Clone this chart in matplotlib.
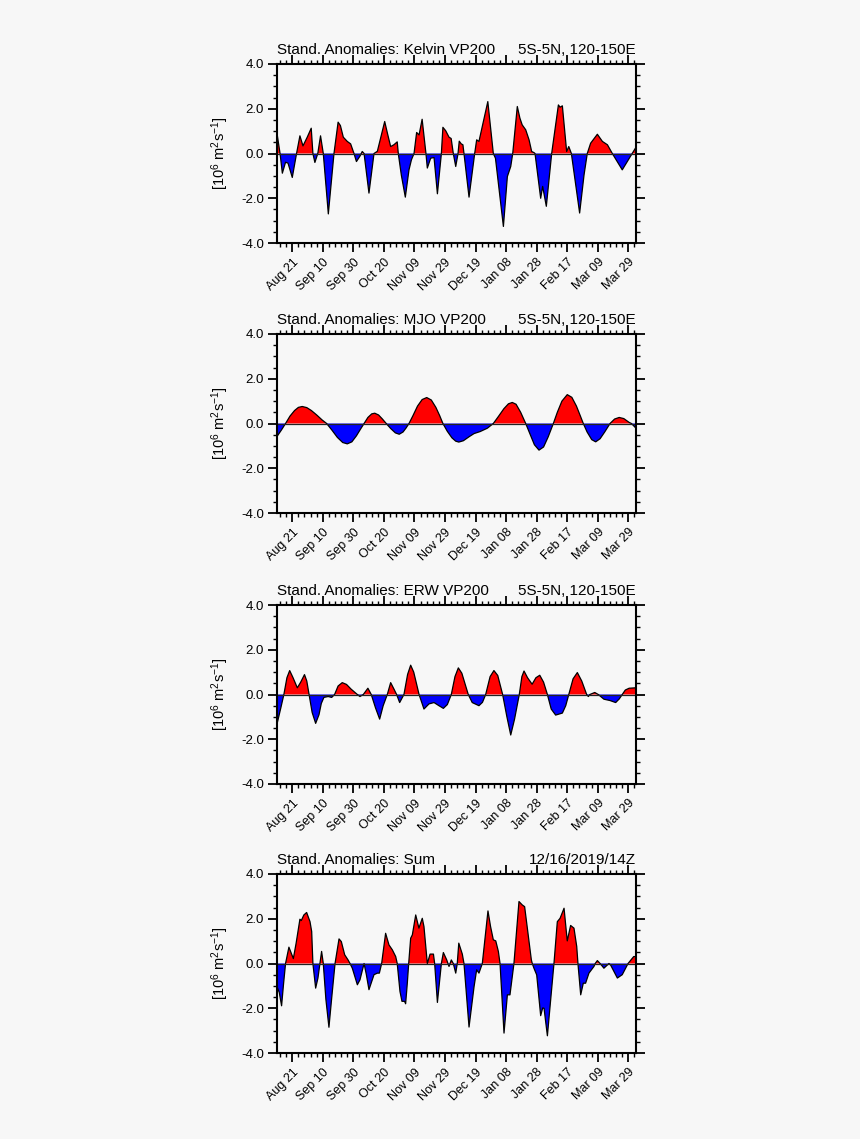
import numpy as np
import matplotlib
matplotlib.use("Agg")
import matplotlib.pyplot as plt
from matplotlib.ticker import MultipleLocator, FixedLocator

plt.rcParams["font.family"] = ["Liberation Sans", "DejaVu Sans"]
plt.rcParams["mathtext.default"] = "regular"

# x axis = days after Aug 21
tick_days = [0, 20, 40, 60, 80, 100, 120, 140, 160, 180, 200, 220]
tick_labels = ["Aug 21", "Sep 10", "Sep 30", "Oct 20", "Nov 09", "Nov 29",
               "Dec 19", "Jan 08", "Jan 28", "Feb 17", "Mar 09", "Mar 29"]
y_ticks = [-4, -2, 0, 2, 4]
y_tick_labels = ["-4.0", "-2.0", "0.0", "2.0", "4.0"]

# Kelvin VP200
kelvin_day = [-10, -8, -6.5, -4.4, -2.8, 0, 2.8, 5, 7, 9.8, 12.4, 13.5, 14.8, 16.7, 18.5,
              20.3, 23.6, 27.3, 30, 31.5, 33.4, 36, 38.2, 40.4, 42, 44.2, 45.8, 47, 50.2,
              53.5, 55.7, 60.5, 62.3, 64.4, 66.5, 68.7, 69.4, 71.4, 74, 76.4, 78, 79.7,
              81.4, 83, 85, 87.5, 88.4, 90.6, 92.8, 95, 97.6, 98.6, 100.4, 102.6, 104,
              105.4, 107, 108.5, 109.3, 110.6, 111.7, 112.4, 115.7, 119.4, 120.7, 122.2,
              128, 131.6, 133, 138.2, 140.8, 143, 144.3, 147.3, 149, 150.5, 152.8, 155,
              156.7, 158.2, 158.9, 162.6, 163.9, 166.3, 169.8, 174.2, 175.3, 176.8, 179.6,
              181, 182.7, 188.1, 191, 193.1, 195.3, 199.7, 203, 206.3, 209.5, 216, 222.5, 225]
kelvin_val = [0.90, 0.0, -0.88, -0.39, -0.43, -1.07, 0.0, 0.79, 0.34, 0.73, 1.13, 0.0, -0.40, 0.0, 0.79,
              0.0, -2.70, 0.0, 1.40, 1.25, 0.73, 0.54, 0.43, 0.0, -0.36, -0.13, 0.09, 0.0, -1.77,
              0.0, 0.10, 1.43, 0.90, 0.31, 0.39, 0.52, 0.0, -0.97, -1.95, -0.73, -0.28, 0.0,
              0.94, 0.83, 1.53, 0.0, -0.65, -0.21, -0.18, -1.80, 0.0, 1.17, 1.02, 0.73, 0.67,
              0.0, -0.58, 0.0, 0.55, 0.43, 0.39, 0.0, -1.95, 0.0, 0.61, 0.54,
              2.32, 0.0, -0.21, -3.26, -1.03, -0.58, 0.0, 2.10, 1.58, 1.28, 1.06, 0.61,
              0.09, 0.04, 0.0, -2.00, -1.47, -2.36, 0.0, 2.17, 2.07, 2.13, 0.09,
              0.31, 0.0, -2.66, -0.95, 0.0, 0.46, 0.86, 0.54, 0.39, 0.0, -0.73, 0.0, 0.28]

# MJO VP200
mjo_day = [-10, -7, -4.4, -1.5, 1.5, 4, 6.5, 9.5, 12.5, 16, 19.5, 22.5, 26, 29.5, 33, 36, 39,
           42, 44.5, 47, 49.5, 52, 54, 56.5, 59, 61.5, 64.5, 67.5, 70, 72.5, 74.5, 76.4, 79,
           82, 85, 88, 91, 94, 96.5, 98.6, 101.5, 104.5, 107, 109, 112, 116, 119, 123, 127.7,
           131.6, 135, 138.5, 141.5, 144, 146.5, 149.5, 152.8, 155.5, 158.5, 161.5, 164.5,
           167.5, 170.9, 173.5, 176.5, 180, 183, 186, 188.5, 190.5, 193, 196, 198.6, 201.5,
           204.5, 208, 211, 214, 217, 220.5, 222, 225]
mjo_val = [-0.58, -0.28, 0.0, 0.33, 0.58, 0.72, 0.76, 0.71, 0.58, 0.38, 0.16, 0.0, -0.30, -0.62,
           -0.85, -0.91, -0.82, -0.55, -0.27, 0.0, 0.27, 0.43, 0.46, 0.38, 0.20, 0.0, -0.23,
           -0.42, -0.48, -0.38, -0.20, 0.0, 0.35, 0.78, 1.07, 1.16, 1.05, 0.72, 0.35, 0.0,
           -0.35, -0.64, -0.79, -0.83, -0.77, -0.58, -0.45, -0.36, -0.21, 0.0, 0.32, 0.66,
           0.88, 0.94, 0.86, 0.50, 0.0, -0.45, -0.95, -1.19, -1.05, -0.60, 0.0, 0.50, 1.00,
           1.29, 1.17, 0.78, 0.35, 0.0, -0.38, -0.72, -0.82, -0.68, -0.38, 0.0, 0.20, 0.27,
           0.22, 0.05, 0.0, -0.21]

# ERW VP200
erw_day = [-10, -7.5, -5.5, -3.5, -1.7, 0.5, 3.3, 5.5, 8, 9.5, 11, 13, 15.3, 17.5, 19, 20.7,
           23.5, 25.8, 27.7, 30, 32.7, 35.5, 38.5, 42.6, 44.3, 46.5, 49.5, 51.7, 54.5, 57.2,
           59.5, 62.2, 64.4, 66.5, 68.3, 70.3, 73.1, 75.5, 77.5, 79.5, 83, 86.2, 89.5, 92.8,
           96, 98.9, 101.5, 104.1, 106.5, 108.7, 111, 115.2, 117.8, 122.2, 124.5, 126.6,
           129.5, 132, 134.5, 137.7, 140.5, 143, 145.5, 148.6, 150.3, 151.7, 154, 157, 159.5,
           162, 164.5, 167, 169.5, 172.4, 176.8, 179, 181, 183.8, 186.6, 189.5, 192.7, 193.8,
           194.8, 198, 200.3, 204, 208, 211.7, 214, 216, 218, 220.5, 225]
erw_val = [-1.32, -0.60, 0.0, 0.75, 1.07, 0.75, 0.30, 0.55, 0.89, 0.60, 0.0, -0.80, -1.29, -0.90,
           -0.40, -0.13, -0.09, -0.13, 0.0, 0.38, 0.53, 0.45, 0.24, 0.0, -0.09, 0.0, 0.28, 0.0,
           -0.60, -1.10, -0.50, 0.0, 0.53, 0.25, 0.0, -0.36, 0.0, 0.90, 1.31, 1.00, 0.0, -0.65,
           -0.42, -0.36, -0.50, -0.62, -0.45, 0.0, 0.80, 1.19, 0.95, 0.0, -0.36, -0.50, -0.35,
           0.0, 0.80, 1.07, 0.85, 0.0, -1.00, -1.81, -1.10, 0.0, 0.80, 1.05, 0.75, 0.46, 0.75,
           0.86, 0.55, 0.0, -0.65, -0.92, -0.83, -0.50, 0.0, 0.70, 0.98, 0.60, 0.0, -0.09,
           0.0, 0.09, 0.0, -0.21, -0.27, -0.36, -0.20, 0.0, 0.20, 0.28, 0.30]

# Sum
sum_day = [-10, -8.5, -7, -5.7, -4.4, -2.2, 0.7, 2.5, 5, 5.9, 7.6, 9.4, 11.6, 12.7, 13.5, 15.3,
           16.8, 18.1, 19.2, 20.3, 22, 24, 26, 28, 30.6, 32.1, 34.3, 36.5, 37.8, 39.3, 42.6,
           44.3, 47, 48.5, 50.2, 53.5, 55.7, 57, 58.5, 61.1, 63.3, 65.5, 67.7, 68.7, 70.5,
           71.8, 73.5, 74.2, 75.3, 76.2, 77.5, 78.6, 80.8, 82.9, 85.1, 86.2, 88.4, 90.2, 92.4,
           93.2, 95, 97.6, 98.9, 101.1, 101.9, 102.6, 103.3, 104.1, 105.4, 107, 108, 109,
           111.3, 112.4, 115.7, 119, 120.7, 122.2, 124.4, 128.1, 129.8, 131.6, 133.2, 134.9,
           136, 138.6, 140.8, 142.5, 145.1, 148.4, 150.5, 152.1, 156.5, 157.1, 158.2, 160,
           162.6, 163.9, 164.8, 167, 171.3, 173.5, 175.3, 177.9, 180, 182.2, 184.4, 186.2,
           187, 188.8, 190.5, 192, 194.2, 197.5, 198.3, 199.7, 201.5, 204, 207.3, 208.4,
           212.8, 216, 219.8, 223.5, 225]
sum_val = [-1.03, -1.30, -1.89, -0.90, 0.0, 0.73, 0.22, 0.90, 1.98, 1.92, 2.17, 2.28, 1.87, 1.43,
           0.0, -1.10, -0.65, 0.0, 0.54, 0.0, -1.60, -2.85, -1.40, 0.0, 1.10, 0.98, 0.39, 0.16,
           0.0, -0.21, -0.95, -0.73, 0.0, -0.50, -1.17, -0.50, -0.43, -0.43, 0.0, 1.35, 0.83,
           0.61, 0.31, 0.0, -1.25, -1.69, -1.69, -1.80, -0.88, 0.0, 1.13, 1.28, 2.17, 1.58,
           2.02, 1.65, 0.0, 0.42, 0.42, 0.0, -1.74, 0.0, 0.49, 0.16, 0.0, -0.13, 0.0, 0.16,
           0.0, -0.43, 0.0, 0.91, 0.42, 0.0, -2.84, -1.03, -0.28, -0.43, 0.0, 2.35, 1.65,
           1.06, 1.01, 0.54, 0.0, -3.11, -1.40, -1.40, 0.0, 2.77, 2.62, 2.54, 0.16, 0.0,
           -0.21, -0.51, -2.33, -1.99, -2.00, -3.23, 0.0, 1.87, 2.02, 2.47, 1.01, 1.70, 1.58,
           0.76, 0.0, -1.40, -0.88, -0.88, -0.43, -0.13, 0.0, 0.13, 0.0, -0.21, 0.0, -0.07,
           -0.65, -0.50, 0.0, 0.31, 0.31]

panels = [
    ("Stand. Anomalies: Kelvin VP200", "5S-5N, 120-150E", kelvin_day, kelvin_val),
    ("Stand. Anomalies: MJO VP200", "5S-5N, 120-150E", mjo_day, mjo_val),
    ("Stand. Anomalies: ERW VP200", "5S-5N, 120-150E", erw_day, erw_val),
    ("Stand. Anomalies: Sum", "12/16/2019/14Z", sum_day, sum_val),
]

BG = "#f7f7f7"
fig = plt.figure(figsize=(8.6, 11.39), dpi=100, facecolor=BG)

W, H = 860, 1139
ax_left, ax_w, ax_h = 277, 359, 179
ax_tops = [64, 334, 605, 874]


def draw_panel(ax, ttl_l, ttl_r, d, v):
    d = np.asarray(d, dtype=float)
    v = np.asarray(v, dtype=float)
    ax.set_facecolor(BG)
    ax.fill_between(d, v, 0, where=v >= 0, interpolate=True, color="#ff0000", lw=0)
    ax.fill_between(d, v, 0, where=v <= 0, interpolate=True, color="#0000ff", lw=0)
    ax.plot(d, v, color="black", lw=0.9)
    ax.axhline(0, color="#222222", lw=0.9)

    ax.set_xlim(-10, 225)
    ax.set_ylim(-4, 4)
    ax.set_xticks(tick_days)
    ax.set_xticklabels(tick_labels, rotation=45, ha="right", rotation_mode="anchor",
                       fontsize=9)
    ax.xaxis.set_minor_locator(FixedLocator(np.arange(-8, 226, 4)))
    ax.set_yticks(y_ticks)
    ax.set_yticklabels(y_tick_labels, fontsize=9.5)
    ax.yaxis.set_minor_locator(MultipleLocator(0.5))
    ax.tick_params(which="both", direction="out", top=True, right=True, width=1.3)
    ax.tick_params(which="major", length=6.5, pad=3)
    ax.tick_params(which="minor", length=3, width=1.0)
    for s in ax.spines.values():
        s.set_linewidth(1.5)

    ax.set_ylabel(r"[10$^6$ m$^2$s$^{-1}$]", fontsize=10.5)
    ax.yaxis.set_label_coords(-0.128, 0.5)
    ax.text(0, 1.056, ttl_l, transform=ax.transAxes, ha="left", va="baseline", fontsize=11)
    ax.text(1, 1.056, ttl_r, transform=ax.transAxes, ha="right", va="baseline", fontsize=11)


for (tl, tr, d, v), top in zip(panels, ax_tops):
    ax = fig.add_axes([ax_left / W, 1 - (top + ax_h) / H, ax_w / W, ax_h / H])
    draw_panel(ax, tl, tr, d, v)

fig.savefig("out.png", dpi=100, facecolor=BG)
